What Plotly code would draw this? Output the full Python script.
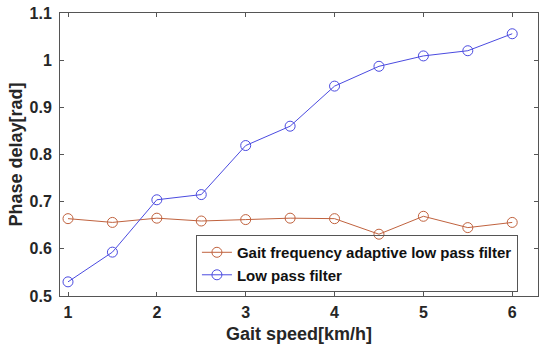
import plotly.graph_objects as go

speed = [1, 1.5, 2, 2.5, 3, 3.5, 4, 4.5, 5, 5.5, 6]
adaptive = [0.664, 0.656, 0.665, 0.659, 0.662, 0.665, 0.664, 0.631, 0.669, 0.645, 0.656]
lowpass = [0.530, 0.593, 0.704, 0.715, 0.819, 0.860, 0.945, 0.987, 1.009, 1.020, 1.056]

xtick_vals = [1, 2, 3, 4, 5, 6]
xtick_text = ["1", "2", "3", "4", "5", "6"]
ytick_vals = [0.5, 0.6, 0.7, 0.8, 0.9, 1.0, 1.1]
ytick_text = ["0.5", "0.6", "0.7", "0.8", "0.9", "1", "1.1"]

red = "#C0623E"
blue = "#4B4BE0"
font = "Liberation Sans"

fig = go.Figure()
fig.add_trace(go.Scatter(
    x=speed, y=adaptive, mode="lines+markers",
    name="<b>Gait frequency adaptive low pass filter</b>",
    line=dict(color=red, width=1),
    marker=dict(symbol="circle-open", size=10, color=red, line=dict(width=1)),
))
fig.add_trace(go.Scatter(
    x=speed, y=lowpass, mode="lines+markers",
    name="<b>Low pass filter</b>",
    line=dict(color=blue, width=1),
    marker=dict(symbol="circle-open", size=10, color=blue, line=dict(width=1)),
))

axis_common = dict(
    showgrid=False, zeroline=False, showline=True, linecolor="#555555", linewidth=1,
    mirror="ticks", ticks="inside", ticklen=4, tickcolor="#555555",
    tickfont=dict(family=font, size=16, color="#262626"),
    automargin=False, ticklabeloverflow="allow",
)
fig.update_xaxes(
    range=[0.91, 6.29], tickvals=xtick_vals, ticktext=[f"<b>{t}</b>" for t in xtick_text],
    ticklabelstandoff=2,
    title=dict(text="<b>Gait speed[km/h]</b>", font=dict(family=font, size=18, color="#262626"), standoff=7),
    **axis_common,
)
fig.update_yaxes(
    range=[0.5, 1.1], tickvals=ytick_vals, ticktext=[f"<b>{t}</b>" for t in ytick_text],
    ticklabelstandoff=4,
    title=dict(text="<b>Phase delay[rad]</b>", font=dict(family=font, size=18, color="#262626"), standoff=2),
    **axis_common,
)
fig.update_layout(
    width=550, height=352,
    margin=dict(l=60, r=12, t=13, b=56),
    paper_bgcolor="white", plot_bgcolor="white",
    font=dict(family=font, color="#262626"),
    showlegend=True,
    legend=dict(
        x=0.958, y=0.014, xanchor="right", yanchor="bottom",
        bordercolor="#555555", borderwidth=1, bgcolor="rgba(255,255,255,0)",
        font=dict(family=font, size=15, color="#111111"),
        tracegroupgap=0, itemwidth=30,
    ),
)
fig.write_html("out.html", config={"displayModeBar": False},
               post_script="document.body.style.margin='0px';")
